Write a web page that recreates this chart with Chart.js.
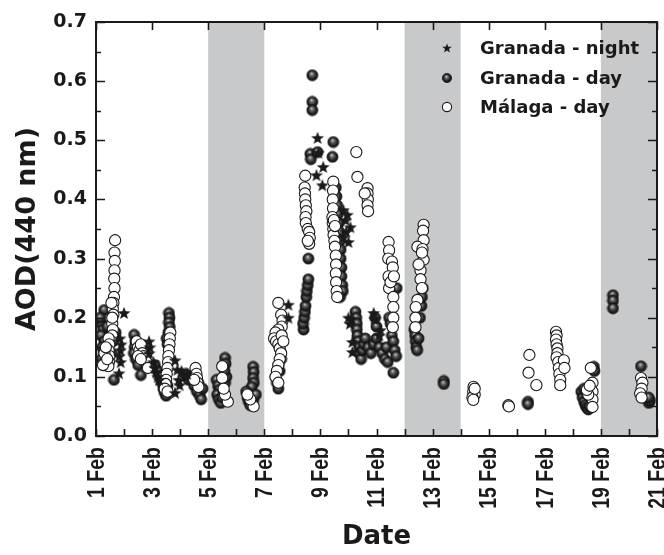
<!DOCTYPE html>
<html>
<head>
<meta charset="utf-8">
<script src="https://cdn.jsdelivr.net/npm/chart.js@4.4.0/dist/chart.umd.min.js"></script>
<style>
  html, body { margin: 0; padding: 0; background: #fff; }
  #chart { display: block; }
</style>
</head>
<body>
<canvas id="chart" width="664" height="555"></canvas>
<script>
// x values are days of February (1 = 1 Feb 00:00), y values are AOD at 440 nm
const granadaNight = [
  [2.0, 0.208], [1.85, 0.165], [1.9, 0.155], [1.87, 0.145], [1.83, 0.135], [1.88, 0.125], [1.82, 0.106],
  [2.89, 0.16], [2.92, 0.15], [2.9, 0.14], [3.05, 0.125], [3.1, 0.115], [3.15, 0.108], [3.2, 0.1], [3.25, 0.095],
  [3.82, 0.128], [3.9, 0.112], [3.82, 0.073], [3.98, 0.086], [4.05, 0.11], [4.15, 0.1], [4.25, 0.105], [3.95, 0.095],
  [7.86, 0.222], [7.86, 0.2],
  [8.9, 0.504], [8.93, 0.479], [9.1, 0.455], [8.86, 0.441], [9.07, 0.424],
  [9.82, 0.382], [9.96, 0.374], [10.07, 0.353], [9.82, 0.336], [10.0, 0.328], [9.9, 0.365], [9.92, 0.345],
  [10.0, 0.2], [10.05, 0.19], [10.1, 0.198], [10.14, 0.159], [10.14, 0.142],
  [10.9, 0.208], [10.93, 0.198], [11.14, 0.179], [11.1, 0.17]
];

const granadaDay = [
  [1.29, 0.213], [1.2, 0.19], [1.25, 0.18], [1.18, 0.17], [1.3, 0.16], [1.22, 0.15], [1.28, 0.14], [1.2, 0.13],
  [1.3, 0.125], [1.35, 0.12], [1.64, 0.095], [1.55, 0.14], [1.6, 0.16], [1.7, 0.175], [1.15, 0.2], [1.4, 0.185],
  [2.36, 0.171], [2.4, 0.16], [2.38, 0.15], [2.35, 0.14], [2.42, 0.13], [2.5, 0.12], [2.6, 0.103], [2.55, 0.135],
  [2.7, 0.145], [3.1, 0.12], [3.2, 0.11], [3.3, 0.1],
  [3.6, 0.208], [3.62, 0.2], [3.6, 0.192], [3.63, 0.184], [3.58, 0.175], [3.35, 0.09], [3.4, 0.08], [3.45, 0.073],
  [3.5, 0.068], [3.55, 0.085], [3.52, 0.165], [3.55, 0.155],
  [4.2, 0.105], [4.3, 0.095], [4.5, 0.085], [4.6, 0.075], [4.7, 0.068], [4.75, 0.062], [4.65, 0.09], [4.8, 0.08], [4.4, 0.1],
  [5.6, 0.132], [5.62, 0.122], [5.3, 0.095], [5.35, 0.085], [5.4, 0.078], [5.32, 0.07], [5.38, 0.062], [5.45, 0.056],
  [5.5, 0.065], [5.55, 0.075], [5.6, 0.09], [5.65, 0.1], [5.58, 0.11],
  [6.6, 0.117], [6.62, 0.108], [6.6, 0.098], [6.63, 0.09], [6.55, 0.083], [6.35, 0.075], [6.4, 0.065], [6.45, 0.058],
  [6.5, 0.052], [6.55, 0.068], [6.6, 0.06], [6.7, 0.07],
  [7.4, 0.1], [7.45, 0.09], [7.5, 0.08], [7.55, 0.11], [7.5, 0.12], [7.6, 0.13],
  [8.4, 0.18], [8.38, 0.19], [8.42, 0.2], [8.45, 0.21], [8.47, 0.22], [8.5, 0.235], [8.52, 0.245], [8.55, 0.255],
  [8.57, 0.265], [8.57, 0.3], [8.71, 0.61], [8.71, 0.565], [8.71, 0.551], [8.64, 0.477], [8.66, 0.468], [8.9, 0.48],
  [9.46, 0.497], [9.43, 0.472],
  [9.55, 0.42], [9.57, 0.405], [9.6, 0.39], [9.62, 0.375], [9.65, 0.36], [9.68, 0.345], [9.7, 0.33], [9.72, 0.315],
  [9.72, 0.3], [9.75, 0.285], [9.75, 0.27], [9.78, 0.255], [9.8, 0.245], [9.7, 0.235],
  [10.25, 0.21], [10.28, 0.2], [10.3, 0.19], [10.3, 0.18], [10.32, 0.17], [10.35, 0.16], [10.38, 0.15], [10.4, 0.14],
  [10.45, 0.13], [10.5, 0.145], [10.55, 0.155], [10.6, 0.165], [10.7, 0.15], [10.8, 0.14], [10.9, 0.155], [11.0, 0.165],
  [11.1, 0.15], [11.2, 0.14], [11.3, 0.13], [11.4, 0.125], [11.35, 0.15], [11.0, 0.185], [10.95, 0.2],
  [11.45, 0.2], [11.5, 0.19], [11.55, 0.17], [11.6, 0.16], [11.65, 0.145], [11.7, 0.135], [11.6, 0.107], [11.72, 0.25],
  [12.35, 0.18], [12.38, 0.17], [12.4, 0.16], [12.42, 0.15], [12.45, 0.145], [12.5, 0.165], [12.55, 0.2], [12.6, 0.22],
  [12.65, 0.25], [12.62, 0.235], [13.4, 0.093], [13.4, 0.088],
  [14.45, 0.07], [16.4, 0.058], [16.4, 0.054],
  [18.3, 0.075], [18.35, 0.065], [18.4, 0.058], [18.45, 0.052], [18.5, 0.048], [18.55, 0.045], [18.6, 0.05], [18.5, 0.07],
  [18.4, 0.08], [18.75, 0.117], [18.77, 0.11],
  [19.43, 0.238], [19.43, 0.229], [19.43, 0.216], [20.43, 0.118], [20.71, 0.056], [20.75, 0.06], [20.7, 0.065]
];

const malagaDay = [
  [1.68, 0.331], [1.66, 0.31], [1.67, 0.296], [1.66, 0.28], [1.65, 0.266], [1.66, 0.25], [1.64, 0.235], [1.62, 0.225],
  [1.6, 0.215], [1.62, 0.205], [1.58, 0.19], [1.6, 0.18], [1.58, 0.17], [1.45, 0.165], [1.47, 0.155], [1.45, 0.145],
  [1.48, 0.135], [1.46, 0.125], [1.44, 0.118], [1.3, 0.14], [1.35, 0.15], [1.25, 0.12], [1.4, 0.13], [1.55, 0.225], [1.58, 0.2],
  [2.45, 0.16], [2.5, 0.15], [2.55, 0.145], [2.6, 0.155], [2.65, 0.14], [2.7, 0.135], [2.75, 0.13], [2.8, 0.125],
  [2.5, 0.135], [2.6, 0.13], [2.85, 0.115],
  [3.65, 0.175], [3.63, 0.165], [3.62, 0.155], [3.6, 0.145], [3.58, 0.135], [3.57, 0.125], [3.55, 0.115], [3.52, 0.105],
  [3.5, 0.095], [3.48, 0.088], [3.45, 0.08], [3.55, 0.075],
  [4.55, 0.115], [4.58, 0.105], [4.6, 0.098], [4.62, 0.09], [4.65, 0.083], [4.5, 0.095],
  [5.5, 0.118], [5.5, 0.098], [5.7, 0.058], [5.6, 0.07], [5.55, 0.08],
  [6.62, 0.05], [6.5, 0.062], [6.4, 0.07],
  [7.5, 0.225], [7.6, 0.205], [7.65, 0.195], [7.62, 0.185], [7.5, 0.18], [7.4, 0.175], [7.35, 0.165], [7.42, 0.16],
  [7.5, 0.155], [7.55, 0.148], [7.6, 0.14], [7.55, 0.13], [7.5, 0.12], [7.45, 0.11], [7.4, 0.1], [7.5, 0.09],
  [7.62, 0.17], [7.68, 0.16],
  [8.46, 0.44], [8.44, 0.42], [8.45, 0.41], [8.46, 0.4], [8.48, 0.39], [8.5, 0.38], [8.47, 0.37], [8.48, 0.36],
  [8.55, 0.35], [8.6, 0.345], [8.62, 0.335], [8.6, 0.325], [8.55, 0.33],
  [9.46, 0.43], [9.45, 0.415], [9.44, 0.4], [9.45, 0.385], [9.43, 0.37], [9.44, 0.36], [9.46, 0.35], [9.47, 0.34],
  [9.5, 0.33], [9.52, 0.32], [9.55, 0.305], [9.56, 0.29], [9.55, 0.275], [9.56, 0.26], [9.58, 0.245], [9.6, 0.235],
  [9.48, 0.365], [9.52, 0.355],
  [10.28, 0.48], [10.32, 0.438], [10.68, 0.419], [10.68, 0.41], [10.69, 0.4], [10.68, 0.39], [10.7, 0.38], [10.58, 0.41],
  [11.43, 0.328], [11.45, 0.314], [11.42, 0.3], [11.55, 0.295], [11.58, 0.285], [11.43, 0.27], [11.45, 0.25], [11.6, 0.235],
  [11.6, 0.218], [11.6, 0.2], [11.58, 0.184], [11.5, 0.26], [11.62, 0.27],
  [12.68, 0.357], [12.66, 0.347], [12.68, 0.331], [12.46, 0.32], [12.64, 0.316], [12.68, 0.298], [12.57, 0.28], [12.57, 0.265],
  [12.62, 0.25], [12.46, 0.23], [12.4, 0.218], [12.39, 0.2], [12.39, 0.184], [12.5, 0.29], [12.62, 0.31],
  [14.46, 0.083], [14.45, 0.075], [14.5, 0.07], [14.42, 0.065], [14.5, 0.08], [14.45, 0.061],
  [15.7, 0.052], [15.72, 0.05], [16.42, 0.107], [16.45, 0.137], [16.7, 0.086],
  [17.4, 0.176], [17.42, 0.17], [17.4, 0.163], [17.42, 0.155], [17.45, 0.148], [17.45, 0.14], [17.42, 0.133], [17.48, 0.125],
  [17.5, 0.115], [17.52, 0.105], [17.55, 0.095], [17.55, 0.086], [17.68, 0.128], [17.7, 0.115],
  [18.64, 0.115], [18.7, 0.09], [18.7, 0.075], [18.7, 0.062], [18.7, 0.049], [18.55, 0.07], [18.5, 0.078], [18.6, 0.085],
  [20.43, 0.098], [20.48, 0.09], [20.45, 0.08], [20.4, 0.072], [20.45, 0.065]
];

const seriesLabels = ["Granada - night", "Granada - day", "Málaga - day"];
const shadedBands = [[5, 7], [12, 14], [19, 21]];
const dayTicks = [1, 2, 3, 4, 5, 6, 7, 8, 9, 10, 11, 12, 13, 14, 15, 16, 17, 18, 19, 20, 21];
const labelledDays = [1, 3, 5, 7, 9, 11, 13, 15, 17, 19, 21];
const yMajorTicks = [0, 0.1, 0.2, 0.3, 0.4, 0.5, 0.6, 0.7];
const yMinorTicks = [0.05, 0.15, 0.25, 0.35, 0.45, 0.55, 0.65];

const INK = "#1a1a1a";
const BAND = "#c8c9cb";

function toPoints(rows) {
  return rows.map(function (r) { return { x: r[0], y: r[1] }; });
}

function makeSphere(r) {
  const c = document.createElement("canvas");
  const s = Math.ceil(r * 2 + 2);
  c.width = s; c.height = s;
  const g = c.getContext("2d");
  const m = s / 2;
  const grad = g.createRadialGradient(m - r * 0.15, m - r * 0.35, 0, m, m, r);
  grad.addColorStop(0, "#d8d8d8");
  grad.addColorStop(0.3, "#6e6e6e");
  grad.addColorStop(0.7, "#262626");
  grad.addColorStop(1, "#111");
  g.beginPath();
  g.arc(m, m, r, 0, Math.PI * 2);
  g.fillStyle = grad;
  g.fill();
  g.lineWidth = 0.8;
  g.strokeStyle = "#111";
  g.stroke();
  return c;
}

function makeStar(outer) {
  const c = document.createElement("canvas");
  const s = Math.ceil(outer * 2 + 2);
  c.width = s; c.height = s;
  const g = c.getContext("2d");
  const m = s / 2;
  const inner = outer * 0.42;
  g.beginPath();
  for (let i = 0; i < 10; i++) {
    const rad = i % 2 === 0 ? outer : inner;
    const a = -Math.PI / 2 + i * Math.PI / 5;
    const px = m + rad * Math.cos(a);
    const py = m + rad * Math.sin(a) + outer * 0.08;
    if (i === 0) g.moveTo(px, py); else g.lineTo(px, py);
  }
  g.closePath();
  g.fillStyle = INK;
  g.fill();
  return c;
}

const starImg = makeStar(6.8);
const sphereImg = makeSphere(5.5);
const legendStar = makeStar(5);
const legendSphere = makeSphere(4.6);

const framePlugin = {
  id: "frame",
  beforeDatasetsDraw(chart) {
    const { ctx, chartArea: a, scales: { x } } = chart;
    ctx.save();
    ctx.fillStyle = BAND;
    shadedBands.forEach(function (b) {
      const x0 = x.getPixelForValue(b[0]);
      const x1 = x.getPixelForValue(b[1]);
      ctx.fillRect(x0, a.top, x1 - x0, a.bottom - a.top);
    });
    ctx.restore();
  },
  afterDatasetsDraw(chart) {
    const { ctx, chartArea: a, scales: { x, y } } = chart;
    ctx.save();
    ctx.strokeStyle = INK;
    ctx.lineWidth = 1.6;
    ctx.beginPath();
    dayTicks.forEach(function (d) {
      const px = Math.round(x.getPixelForValue(d)) + 0.5;
      ctx.moveTo(px, a.bottom);
      ctx.lineTo(px, a.bottom - 7);
    });
    labelledDays.forEach(function (d) {
      const px = Math.round(x.getPixelForValue(d)) + 0.5;
      ctx.moveTo(px, a.top);
      ctx.lineTo(px, a.top + 8);
    });
    yMajorTicks.forEach(function (v) {
      const py = Math.round(y.getPixelForValue(v)) + 0.5;
      ctx.moveTo(a.left, py); ctx.lineTo(a.left + 9, py);
      ctx.moveTo(a.right, py); ctx.lineTo(a.right - 9, py);
    });
    yMinorTicks.forEach(function (v) {
      const py = Math.round(y.getPixelForValue(v)) + 0.5;
      ctx.moveTo(a.left, py); ctx.lineTo(a.left + 5, py);
      ctx.moveTo(a.right, py); ctx.lineTo(a.right - 5, py);
    });
    ctx.stroke();

    ctx.lineWidth = 2;
    ctx.strokeRect(a.left, a.top, a.right - a.left, a.bottom - a.top);

    // date labels, read upwards, a little widened like the original figure
    ctx.fillStyle = INK;
    ctx.font = "bold 19.5px 'Liberation Sans'";
    ctx.textAlign = "right";
    ctx.textBaseline = "middle";
    labelledDays.forEach(function (d) {
      ctx.save();
      ctx.translate(x.getPixelForValue(d) + 1, a.bottom + 11);
      ctx.rotate(-Math.PI / 2);
      ctx.scale(1, 1.25);
      ctx.fillText(d + " Feb", 0, 0);
      ctx.restore();
    });

    // legend, top right inside the plot
    const symbols = [legendStar, legendSphere, null];
    const rowsY = [48, 78, 107];
    ctx.font = "bold 18px 'DejaVu Sans'";
    ctx.textAlign = "left";
    seriesLabels.forEach(function (label, i) {
      const sx = 447, sy = rowsY[i];
      if (symbols[i]) {
        ctx.drawImage(symbols[i], sx - symbols[i].width / 2, sy - symbols[i].height / 2);
      } else {
        ctx.beginPath();
        ctx.arc(sx, sy, 4.6, 0, Math.PI * 2);
        ctx.fillStyle = "#fff";
        ctx.fill();
        ctx.lineWidth = 1.1;
        ctx.stroke();
        ctx.fillStyle = INK;
      }
      ctx.fillText(label, 480, sy + 1);
    });
    ctx.restore();
  }
};

new Chart(document.getElementById("chart"), {
  type: "scatter",
  data: {
    datasets: [
      {
        label: seriesLabels[0],
        data: toPoints(granadaNight),
        pointStyle: starImg,
        pointRadius: 6,
        order: 0
      },
      {
        label: seriesLabels[2],
        data: toPoints(malagaDay),
        pointStyle: "circle",
        pointRadius: 5.6,
        backgroundColor: "#ffffff",
        borderColor: INK,
        borderWidth: 1.1,
        order: 1
      },
      {
        label: seriesLabels[1],
        data: toPoints(granadaDay),
        pointStyle: sphereImg,
        pointRadius: 5.5,
        order: 2
      }
    ]
  },
  options: {
    responsive: false,
    animation: false,
    devicePixelRatio: 1,
    layout: { padding: { top: 22, right: 7, left: 0, bottom: 0 } },
    plugins: { legend: { display: false }, tooltip: { enabled: false } },
    scales: {
      x: {
        type: "linear",
        min: 1,
        max: 21,
        grid: { display: false, drawTicks: false },
        border: { display: false },
        afterBuildTicks: function (scale) {
          scale.ticks = labelledDays.map(function (d) { return { value: d }; });
        },
        afterFit: function (scale) {
          scale.height = 119;
          scale.paddingLeft = 0;
          scale.paddingRight = 0;
        },
        ticks: { display: false },
        title: {
          display: true,
          text: "Date",
          color: INK,
          font: { family: "'DejaVu Sans'", weight: "bold", size: 26 },
          padding: { top: 0, bottom: 2 }
        }
      },
      y: {
        min: 0,
        max: 0.7,
        grid: { display: false, drawTicks: false },
        border: { display: false },
        afterBuildTicks: function (scale) {
          scale.ticks = yMajorTicks.map(function (v) { return { value: v }; });
        },
        afterFit: function (scale) {
          scale.width = 96;
          scale.paddingTop = 0;
          scale.paddingBottom = 0;
        },
        ticks: {
          color: INK,
          font: { family: "'DejaVu Sans'", weight: "bold", size: 19 },
          padding: 9,
          callback: function (v) { return v.toFixed(1); }
        },
        title: {
          display: true,
          text: "AOD(440 nm)",
          color: INK,
          font: { family: "'DejaVu Sans'", weight: "bold", size: 27 },
          padding: { top: 12, bottom: 0 }
        }
      }
    }
  },
  plugins: [framePlugin]
});
</script>
</body>
</html>
